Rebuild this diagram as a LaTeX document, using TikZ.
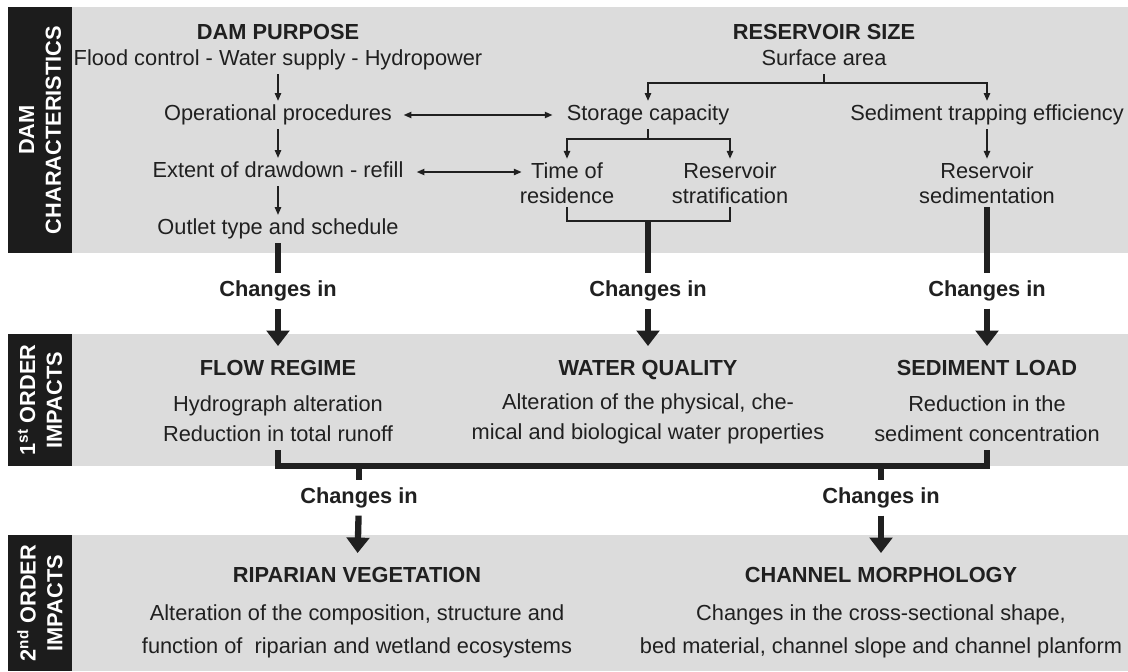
\documentclass[tikz,border=0pt]{standalone}
\usepackage{fontspec}
\setmainfont{Liberation Sans}
\usetikzlibrary{positioning,arrows.meta}

\definecolor{bandgray}{RGB}{220,220,220}
\definecolor{labelblack}{RGB}{28,28,28}
\definecolor{ink}{RGB}{32,32,32}

\tikzset{
  txt/.style={font=\fontsize{15.5}{21}\selectfont, text=ink, inner sep=2.5pt,
    text height=11.4pt, text depth=3.3pt},
  headtxt/.style={txt, font=\fontsize{15.5}{21}\selectfont\bfseries},
  chg/.style={headtxt, inner sep=5pt},
  twoline/.style={font=\fontsize{15.5}{17.8}\selectfont, text=ink, align=center, inner sep=2.5pt},
  desctwo/.style={twoline, font=\fontsize{15.5}{21.3}\selectfont},
  descthree/.style={twoline, font=\fontsize{15.5}{23.5}\selectfont},
  sidelabel/.style={font=\fontsize{15.5}{19}\selectfont\bfseries, text=white, align=center, rotate=90},
  thinline/.style={draw=ink, line width=1pt},
  thinarrow/.style={thinline, -{Triangle[length=5.5pt,width=4.5pt]}},
  thinboth/.style={thinline, {Triangle[length=5.5pt,width=4.5pt]}-{Triangle[length=5.5pt,width=4.5pt]}},
  thickline/.style={draw=ink, line width=4.5pt},
  thickarrow/.style={thickline, -{Triangle[length=11pt,width=16pt]}, shorten >=7pt},
}

\begin{document}
\begin{tikzpicture}[x=0.025cm,y=-0.025cm]
\useasboundingbox (0,0) rectangle (1128,671);

% bands
\fill[bandgray] (8,7) rectangle (1128,253);
\fill[bandgray] (8,334) rectangle (1128,466);
\fill[bandgray] (8,535) rectangle (1128,671);
\fill[labelblack] (8,7) rectangle (72,253);
\fill[labelblack] (8,334) rectangle (72,466);
\fill[labelblack] (8,535) rectangle (72,671);

\node[sidelabel] (lab1) at (40,130) {DAM\\CHARACTERISTICS};
\node[sidelabel] (lab2) at (40,400) {1\textsuperscript{st} ORDER\\IMPACTS};
\node[sidelabel] (lab3) at (40,603) {2\textsuperscript{nd} ORDER\\IMPACTS};

% dam purpose
\begin{scope}[node distance=1.425cm]
\node[headtxt] (purpose) at (278,34) {DAM PURPOSE};
\node[txt] (uses) at (278,60) {Flood control - Water supply - Hydropower};
\node[txt] (oper) at (278,115) {Operational procedures};
\node[txt, below of=oper] (drawdown) {Extent of drawdown - refill};
\node[txt, below of=drawdown] (outlet) {Outlet type and schedule};
\end{scope}

\draw[thinarrow] (uses) -- (oper);
\draw[thinarrow] (oper) -- (drawdown);
\draw[thinarrow] (drawdown) -- (outlet);

% reservoir size
\node[headtxt] (ressize) at (824,34) {RESERVOIR SIZE};
\node[txt] (surface) at (824,60) {Surface area};
\node[txt] (storage) at (648,115) {Storage capacity};
\node[txt] (trapping) at (987,115) {Sediment trapping efficiency};
\node[twoline] (residence) at (567,183) {Time of\\residence};
\node[twoline] (strat) at (730,183) {Reservoir\\stratification};
\node[twoline] (sedim) at (987,183) {Reservoir\\sedimentation};

\coordinate (split) at (824,83);
\draw[thinline] (surface) -- (split);
\draw[thinarrow] (split) -| (storage);
\draw[thinarrow] (split) -| (trapping);
\draw[thinarrow] (trapping) -- (sedim);

\coordinate (split2) at (648,139);
\draw[thinline] (storage) -- (split2);
\draw[thinarrow] (split2) -| (residence);
\draw[thinarrow] (split2) -| (strat);

\draw[thinboth, shorten <=5.7pt, shorten >=7.5pt] (oper) -- (storage);
\draw[thinboth, shorten <=6.8pt, shorten >=-4pt] (drawdown) -- (drawdown -| residence.west);

\coordinate (join) at (648,221);
\draw[thinline] (residence.south) |- (join) -| (strat.south);

% changes in
\node[chg] (chgflow) at (278,291) {Changes in};
\node[chg] (chgqual) at (648,291) {Changes in};
\node[chg] (chgsed) at (987,291) {Changes in};
\draw[thickline] (outlet) -- (chgflow);
\draw[thickline] (join) -- (chgqual);
\draw[thickline] (sedim) -- (chgsed);

% first order impacts
\node[headtxt] (flow) at (278,370) {FLOW REGIME};
\node[headtxt] (quality) at (648,370) {WATER QUALITY};
\node[headtxt] (sedload) at (987,370) {SEDIMENT LOAD};
\node[desctwo] (flowtxt) at (278,419) {Hydrograph alteration\\Reduction in total runoff};
\node[desctwo] (qualtxt) at (648,419) {Alteration of the physical, che-\\mical and biological water properties};
\node[desctwo] (sedtxt) at (987,419) {Reduction in the\\sediment concentration};

\draw[thickarrow] (chgflow) -- (flow);
\draw[thickarrow] (chgqual) -- (quality);
\draw[thickarrow] (chgsed) -- (sedload);

\coordinate (bar) at (620,466);
\coordinate (ripjoin) at (359,466);
\coordinate (morjoin) at (881,466);
\draw[thickline, line join=miter, shorten <=3pt, shorten >=3pt] (flowtxt.south) |- (bar) -| (sedtxt.south);

% second order impacts
\node[chg] (chgrip) at (359,498) {Changes in};
\node[chg] (chgmor) at (881,498) {Changes in};
\draw[thickline] (ripjoin) -- (chgrip);
\draw[thickline] (morjoin) -- (chgmor);

\node[headtxt] (riparian) at (357,577) {RIPARIAN VEGETATION};
\node[headtxt] (morph) at (881,577) {CHANNEL MORPHOLOGY};
\node[descthree] (riptxt) at (357,631) {Alteration of the composition, structure and\\function of\ \ riparian and wetland ecosystems};
\node[descthree] (mortxt) at (881,631) {Changes in the cross-sectional shape,\\bed material, channel slope and channel planform};

\draw[thickarrow] (chgrip) -- (riparian);
\draw[thickarrow] (chgmor) -- (morph);

\end{tikzpicture}
\end{document}
